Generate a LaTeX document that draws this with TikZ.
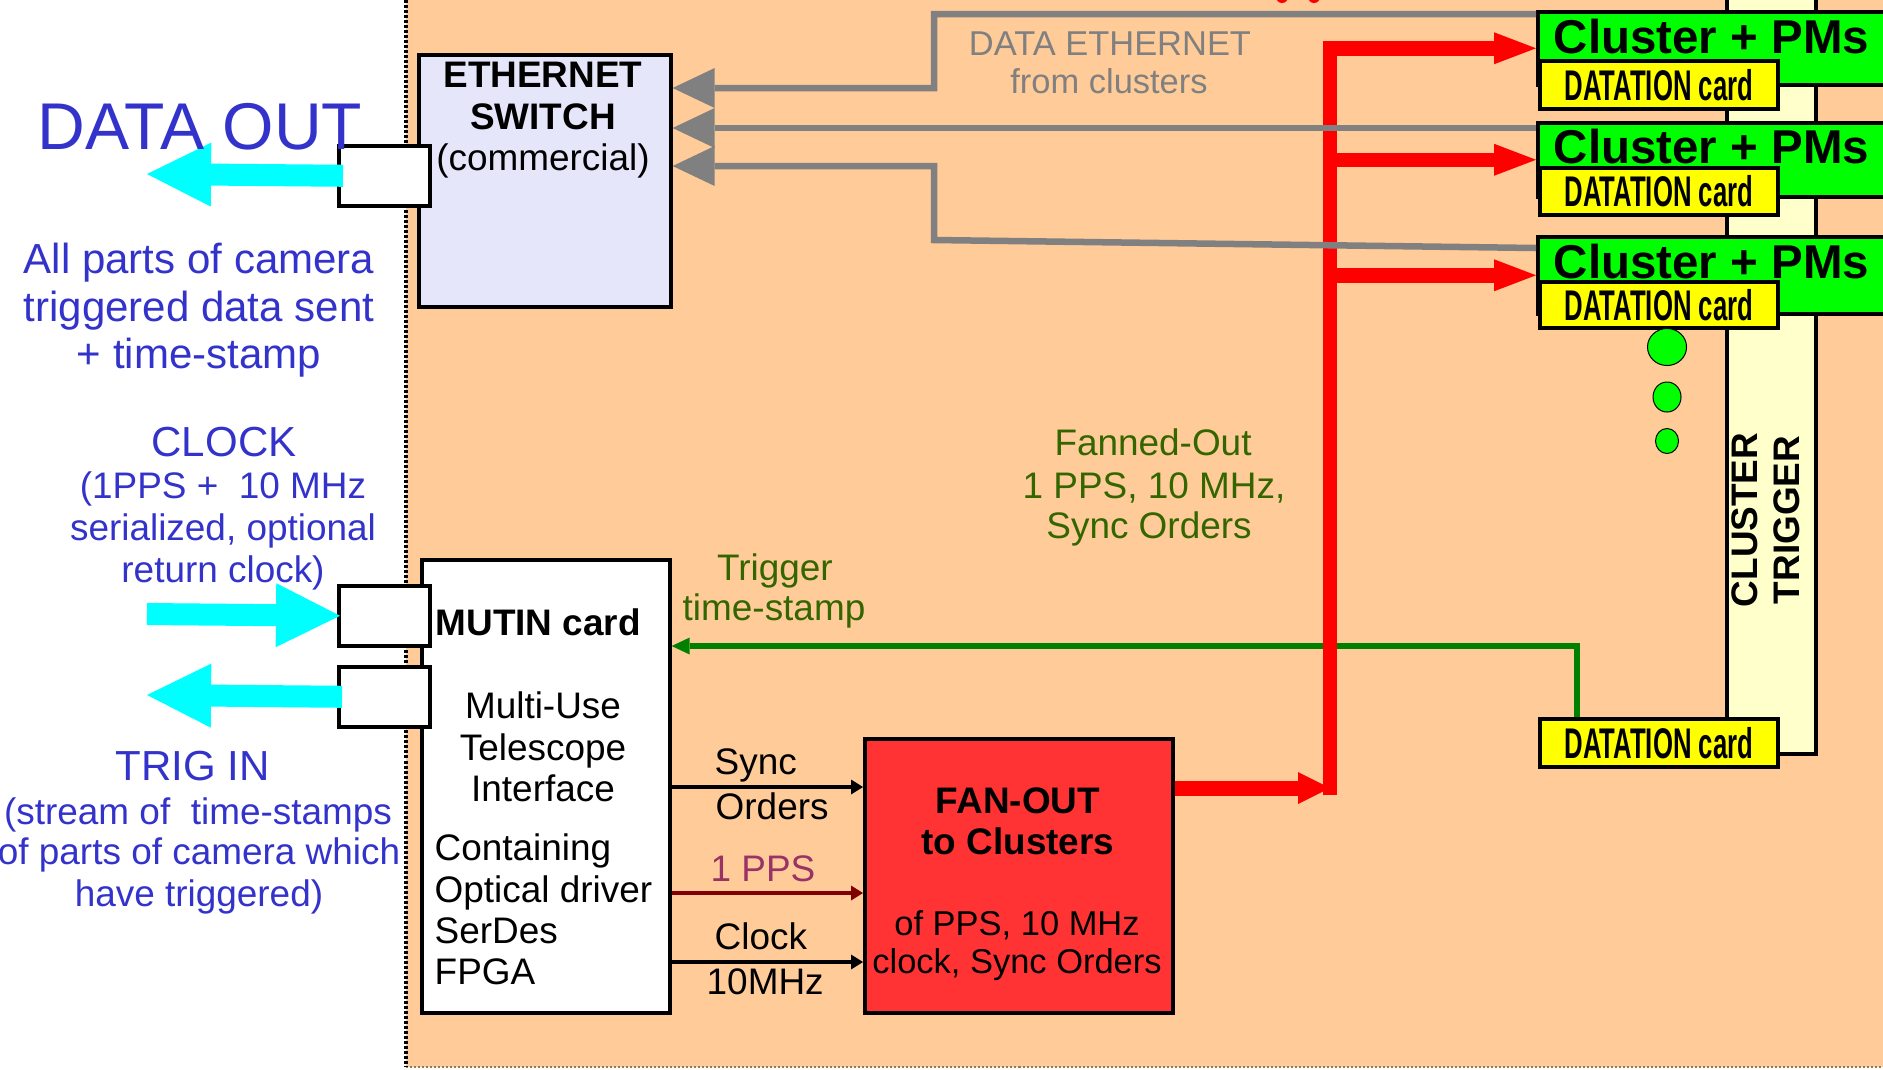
\documentclass[tikz,border=0pt]{standalone}
\usepackage{fontspec}
\setmainfont{Liberation Sans}
\newfontfamily\narrowsans{Liberation Sans}[FakeStretch=0.6]
\usetikzlibrary{arrows.meta}

\definecolor{peach}{RGB}{255,203,153}
\definecolor{lavender}{RGB}{230,230,250}
\definecolor{fanred}{RGB}{255,51,51}
\definecolor{brightred}{RGB}{255,0,0}
\definecolor{clustergreen}{RGB}{0,255,0}
\definecolor{cardyellow}{RGB}{255,255,0}
\definecolor{paleyellow}{RGB}{255,255,204}
\definecolor{labelblue}{RGB}{51,51,204}
\definecolor{ethgray}{RGB}{128,128,128}
\definecolor{trigline}{RGB}{0,128,0}
\definecolor{trigtext}{RGB}{51,102,0}
\definecolor{ppsline}{RGB}{128,0,0}
\definecolor{ppstext}{RGB}{153,51,102}
\definecolor{cyanarrow}{RGB}{0,255,255}
\definecolor{edgebrown}{RGB}{150,120,90}

\tikzset{
  box/.style={draw=black, line width=0.035cm, inner sep=0, anchor=north west},
  port/.style={box, fill=white, minimum width=0.91cm, minimum height=0.60cm},
  card/.style={box, fill=cardyellow, minimum width=2.38cm,
    font=\narrowsans\bfseries\fontsize{12.2}{12}\selectfont},
  cluster/.style={box, fill=clustergreen, minimum width=3.7cm},
  txt/.style={inner sep=0, anchor=base},
  ltxt/.style={inner sep=0, anchor=base west},
  bluebig/.style={txt, text=labelblue, font=\fontsize{11.95}{12}\selectfont},
  bluesmall/.style={txt, text=labelblue, font=\fontsize{10.5}{11}\selectfont},
  body/.style={txt, font=\fontsize{10.5}{11}\selectfont},
  lbody/.style={ltxt, font=\fontsize{10.5}{11}\selectfont},
  bodybf/.style={txt, font=\bfseries\fontsize{10.5}{11}\selectfont},
  greentext/.style={txt, text=trigtext, font=\fontsize{10.5}{11}\selectfont},
  graytext/.style={txt, text=ethgray, font=\fontsize{9.8}{10}\selectfont},
  cyanflow/.style={draw=cyanarrow, line width=0.22cm,
    -{Triangle[length=0.64cm,width=0.64cm,line width=0pt]}},
  redflow/.style={draw=brightred, line width=0.145cm, line join=miter,
    -{Triangle[length=0.42cm,width=0.32cm,line width=0pt]}},
  redfeed/.style={draw=brightred, line width=0.15cm,
    -{Triangle[length=0.32cm,width=0.32cm,line width=0pt]}},
  grayflow/.style={draw=ethgray, line width=0.065cm, line join=miter,
    -{Triangle[length=0.42cm,width=0.40cm,line width=0pt]}},
  sig/.style={line width=0.035cm, -{Triangle[length=0.12cm,width=0.15cm,line width=0pt]}},
  trigflow/.style={draw=trigline, line width=0.06cm, line join=miter,
    -{Triangle[length=0.18cm,width=0.17cm,line width=0pt]}},
}

\begin{document}
\begin{tikzpicture}[x=0.01cm, y=-0.01cm]
\useasboundingbox (0,0) rectangle (1883,1069);

% backgrounds: white outside, peach camera area
\fill[white] (0,0) rectangle (1883,1069);
\fill[peach] (406,0) rectangle (1883,1067);
\draw[edgebrown, line width=0.015cm, dash pattern=on 0.02cm off 0.02cm] (406,1067) -- (1883,1067);
\draw[black, line width=0.035cm, dash pattern=on 0.03cm off 0.02cm] (406,0) -- (406,1067);

% small red marks at the top edge
\fill[brightred] (1282,-3) ellipse [x radius=0.06cm, y radius=0.06cm];
\fill[brightred] (1314,-3) ellipse [x radius=0.06cm, y radius=0.06cm];

% cluster trigger bar
\node[box, fill=paleyellow, minimum width=0.89cm, minimum height=7.70cm] (bar) at (1725,-18) {};
\node[inner sep=0, rotate=90, font=\bfseries\fontsize{10.5}{11}\selectfont] (ct1) at (1745,520) {CLUSTER};
\node[inner sep=0, rotate=90, font=\bfseries\fontsize{10.5}{11}\selectfont] (ct2) at (1787,520) {TRIGGER};

% clusters with their datation cards
\node[cluster, minimum height=0.73cm] (c1) at (1536,10) {};
\node[cluster, minimum height=0.74cm] (c2) at (1536,121) {};
\node[cluster, minimum height=0.77cm] (c3) at (1536,235) {};
\node[ltxt, font=\bfseries\fontsize{13.5}{14}\selectfont] (c1t) at (1553,53) {Cluster + PMs};
\node[ltxt, font=\bfseries\fontsize{13.5}{14}\selectfont] (c2t) at (1553,163) {Cluster + PMs};
\node[ltxt, font=\bfseries\fontsize{13.5}{14}\selectfont] (c3t) at (1553,278) {Cluster + PMs};
\node[card, minimum height=0.48cm] (d1) at (1538,59) {DATATION card};
\node[card, minimum height=0.47cm] (d2) at (1538,166) {DATATION card};
\node[card, minimum height=0.46cm] (d3) at (1538,280) {DATATION card};
\node[card, minimum height=0.48cm] (dcb) at (1538,717) {DATATION card};

% more clusters
\filldraw[fill=clustergreen, draw=black, line width=0.01cm] (1667,347) ellipse [x radius=0.195cm, y radius=0.185cm];
\filldraw[fill=clustergreen, draw=black, line width=0.01cm] (1667,397) ellipse [x radius=0.14cm, y radius=0.15cm];
\filldraw[fill=clustergreen, draw=black, line width=0.01cm] (1667,441) ellipse [x radius=0.115cm, y radius=0.125cm];

% ethernet switch
\node[box, fill=lavender, minimum width=2.52cm, minimum height=2.52cm] (eth) at (417,53) {};
\node[bodybf] (eth1) at (543,87) {ETHERNET};
\node[bodybf] (eth2) at (543,129) {SWITCH};
\node[body] (eth3) at (543,170) {(commercial)};
\node[port] (p1) at (337,144) {};

% MUTIN card
\node[box, fill=white, minimum width=2.48cm, minimum height=4.53cm] (mutin) at (420,558) {};
\node[ltxt, font=\bfseries\fontsize{10.5}{11}\selectfont] (mt0) at (435,635) {MUTIN card};
\node[body] (mt1) at (543,718) {Multi-Use};
\node[body] (mt2) at (543,760) {Telescope};
\node[body] (mt3) at (543,801) {Interface};
\node[lbody] (mt4) at (434,860) {Containing};
\node[lbody] (mt5) at (434,902) {Optical driver};
\node[lbody] (mt6) at (434,943) {SerDes};
\node[lbody] (mt7) at (434,984) {FPGA};
\node[port] (p2) at (337,584) {};
\node[port] (p3) at (337,665) {};

% fan-out
\node[box, fill=fanred, minimum width=3.08cm, minimum height=2.74cm] (fo) at (863,737) {};
\node[bodybf] (fo1) at (1018,813) {FAN-OUT};
\node[bodybf] (fo2) at (1018,854) {to Clusters};
\node[txt, font=\fontsize{9.8}{10}\selectfont] (fo3) at (1017,935) {of PPS, 10 MHz};
\node[txt, font=\fontsize{9.8}{10}\selectfont] (fo4) at (1017,973) {clock, Sync Orders};

% signals from MUTIN to fan-out
\draw[sig] (mutin.east |- 0,787) -- (fo.west |- 0,787);
\draw[sig, draw=ppsline] (mutin.east |- 0,893) -- (fo.west |- 0,893);
\draw[sig] (mutin.east |- 0,962) -- (fo.west |- 0,962);
\node[lbody] (s1) at (714,774) {Sync};
\node[lbody] (s2) at (715,819) {Orders};
\node[ltxt, text=ppstext, font=\fontsize{10.5}{11}\selectfont] (s3) at (710,881) {1 PPS};
\node[lbody] (s4) at (714,949) {Clock};
\node[lbody] (s5) at (706,994) {10MHz};

% trigger time-stamp back to MUTIN
\draw[trigflow] ([xshift=0.39cm]dcb.north west) -- ++(0,-71) -- (mutin.east |- 0,646);
\node[greentext] (tg1) at (775,580) {Trigger};
\node[greentext] (tg2) at (774,620) {time-stamp};
\node[greentext] (fn1) at (1153,455) {Fanned-Out};
\node[greentext] (fn2) at (1154,498) {1 PPS, 10 MHz,};
\node[greentext] (fn3) at (1149,538) {Sync Orders};

% fanned-out distribution
\coordinate (trunk) at (1330,788);
\draw[redfeed] (fo.east |- trunk) -- (trunk);
\draw[redflow] ([yshift=-0.07cm]trunk) -- (trunk |- c1.west) -- (c1.west);
\draw[redflow] (trunk |- c2.west) -- (c2.west);
\draw[redflow] (trunk |- c3.west) -- (c3.west);

% data ethernet from clusters
\draw[grayflow] ([yshift=-0.04cm]c1.north west) -- (934,14) -- (934,88) -- (eth.east |- 0,88);
\draw[grayflow] (c2.north west |- 0,128) -- (eth.east |- 0,128);
\draw[grayflow] (c3.north west |- 0,248) -- (934,240) -- (934,166) -- (eth.east |- 0,166);
\node[graytext] (de1) at (1110,55) {DATA ETHERNET};
\node[graytext] (de2) at (1109,93) {from clusters};

% external links
\coordinate (dataout) at (147,174);
\coordinate (clkin) at (147,614);
\coordinate (trigout) at (147,695);
\draw[cyanflow] ([xshift=0.06cm]p1.west) -- (dataout);
\draw[cyanflow] (clkin) -- ([xshift=0.03cm]p2.west);
\draw[cyanflow] ([xshift=0.05cm]p3.west) -- (trigout);

\node[txt, text=labelblue, font=\fontsize{18.8}{19}\selectfont] (dout) at (200,149) {DATA OUT};
\node[bluebig] (a1) at (199,273) {All parts of camera};
\node[bluebig] (a2) at (199,321) {triggered data sent};
\node[bluebig] (a3) at (199,368) {+ time-stamp};
\node[bluebig] (clk0) at (224,456) {CLOCK};
\node[bluesmall] (clk1) at (223,498) {(1PPS +\ \ 10 MHz};
\node[bluesmall] (clk2) at (223,540) {serialized, optional};
\node[bluesmall] (clk3) at (223,582) {return clock)};
\node[bluebig] (tr0) at (193,780) {TRIG IN};
\node[bluesmall] (tr1) at (198,824) {(stream of\ \ time-stamps};
\node[bluesmall] (tr2) at (199,864) {of parts of camera which};
\node[bluesmall] (tr3) at (199,906) {have triggered)};
\end{tikzpicture}
\end{document}
